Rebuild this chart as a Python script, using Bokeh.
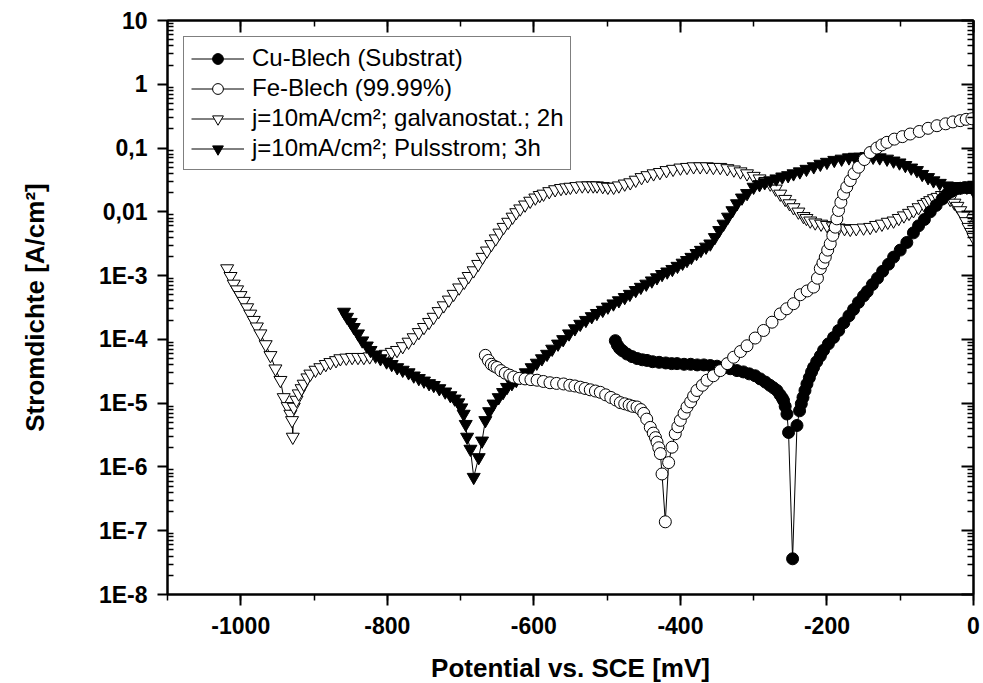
from bokeh.plotting import figure
from bokeh.models import (Range1d, LinearAxis, LogAxis, FixedTicker, SingleIntervalTicker,
                          CustomJSTickFormatter, Legend, LegendItem)
from bokeh.embed import file_html
from bokeh.resources import INLINE

# ---------------- data: (potential mV, current density A/cm2) ----------------
cu_points = [
    (-488.8, 9.55e-5), (-486, 8.13e-5), (-483, 7.24e-5), (-479, 6.61e-5), (-472.9, 5.89e-5),
    (-466, 5.37e-5), (-459, 5.01e-5), (-452, 4.79e-5), (-445.6, 4.68e-5), (-438, 4.47e-5),
    (-429, 4.37e-5), (-420, 4.27e-5), (-412, 4.17e-5), (-404.6, 4.17e-5), (-395, 4.07e-5),
    (-386, 4.07e-5), (-377, 3.98e-5), (-368, 3.98e-5), (-359.2, 3.89e-5), (-350, 3.80e-5),
    (-341, 3.63e-5), (-332, 3.47e-5), (-322.8, 3.24e-5), (-314, 3.09e-5), (-306, 2.88e-5),
    (-298, 2.69e-5), (-291, 2.40e-5), (-284, 2.14e-5), (-278, 1.91e-5), (-273, 1.74e-5),
    (-268.2, 1.58e-5), (-264, 1.35e-5), (-261, 1.20e-5), (-259.2, 1.10e-5), (-257, 8.91e-6),
    (-254.6, 6.76e-6), (-252.4, 3.47e-6), (-246.9, 3.63e-8), (-240.9, 4.47e-6), (-237.4, 7.59e-6),
    (-235, 9.77e-6), (-232.7, 1.23e-5), (-230, 1.58e-5), (-227.3, 2.00e-5), (-224, 2.51e-5),
    (-221, 3.09e-5), (-218.3, 3.63e-5), (-214, 4.47e-5), (-209, 5.50e-5), (-204.6, 6.76e-5),
    (-198, 8.51e-5), (-191, 1.07e-4), (-184, 1.38e-4), (-177, 1.82e-4), (-170, 2.34e-4),
    (-163.7, 2.95e-4), (-157, 3.80e-4), (-150.1, 4.79e-4), (-145, 5.62e-4), (-138, 7.24e-4),
    (-131, 9.12e-4), (-124, 1.17e-3), (-116, 1.51e-3), (-109, 1.95e-3), (-100, 2.51e-3),
    (-91, 3.31e-3), (-82, 4.68e-3), (-75, 6.03e-3), (-67, 7.59e-3), (-59, 1.00e-2),
    (-51, 1.26e-2), (-43, 1.58e-2), (-36, 1.91e-2), (-30, 2.09e-2), (-24, 2.29e-2),
    (-18, 2.34e-2), (-12, 2.40e-2), (-6, 2.40e-2), (0, 2.34e-2),
]

fe_points = [
    (-666.2, 5.62e-5), (-662, 4.68e-5), (-658, 4.07e-5), (-654, 3.80e-5), (-650.2, 3.63e-5),
    (-645, 3.24e-5), (-639, 2.95e-5), (-633, 2.75e-5), (-627.6, 2.57e-5), (-620, 2.45e-5),
    (-612, 2.40e-5), (-604, 2.34e-5), (-595.6, 2.29e-5), (-587, 2.19e-5), (-578, 2.09e-5),
    (-569, 2.04e-5), (-559.4, 2.00e-5), (-551, 1.91e-5), (-544, 1.86e-5), (-536.6, 1.78e-5),
    (-530, 1.70e-5), (-523, 1.62e-5), (-516, 1.55e-5), (-509.3, 1.48e-5), (-502, 1.35e-5),
    (-495, 1.23e-5), (-488, 1.12e-5), (-482, 1.02e-5), (-476, 9.77e-6), (-470, 9.33e-6),
    (-465, 8.91e-6), (-459.2, 8.71e-6), (-454, 7.94e-6), (-450, 6.92e-6), (-446, 5.62e-6),
    (-441.1, 4.17e-6), (-437, 3.39e-6), (-434, 2.88e-6), (-431.9, 2.45e-6), (-429.5, 2.00e-6),
    (-427.4, 1.62e-6), (-425.1, 7.76e-7), (-420.6, 1.38e-7), (-416.1, 1.17e-6), (-411.5, 2.04e-6),
    (-407, 3.31e-6), (-403.5, 4.27e-6), (-400.1, 5.37e-6), (-395, 6.92e-6), (-391, 8.71e-6),
    (-386, 1.05e-5), (-382, 1.29e-5), (-377.4, 1.58e-5), (-370, 1.91e-5), (-363.7, 2.29e-5),
    (-355, 2.69e-5), (-345.6, 3.24e-5), (-336, 4.17e-5), (-327.4, 5.25e-5), (-318, 6.46e-5),
    (-309.1, 7.94e-5), (-298, 1.05e-4), (-286.5, 1.38e-4), (-275, 1.86e-4), (-263.7, 2.51e-4),
    (-255, 3.02e-4), (-245.6, 3.63e-4), (-236.4, 5.01e-4), (-227, 5.75e-4), (-218.3, 6.61e-4),
    (-213, 9.12e-4), (-209.1, 1.29e-3), (-205.5, 1.58e-3), (-202.3, 1.95e-3), (-199, 2.51e-3),
    (-195.5, 3.16e-3), (-192, 4.27e-3), (-188.7, 5.75e-3), (-186.5, 7.76e-3), (-184.2, 1.05e-2),
    (-181, 1.41e-2), (-177.4, 1.91e-2), (-173, 2.45e-2), (-168.2, 3.09e-2), (-163, 3.98e-2),
    (-156.9, 5.01e-2), (-149, 6.61e-2), (-141, 8.51e-2), (-132, 0.100), (-125, 0.112),
    (-118.1, 0.123), (-108, 0.138), (-97, 0.151), (-86.4, 0.166), (-74, 0.182),
    (-62, 0.204), (-49.9, 0.224), (-38, 0.240), (-28, 0.257), (-18.1, 0.269),
    (-10, 0.282), (-2.2, 0.288),
]

gal_points = [
    (-1018.6, 1.29e-3), (-1014, 9.77e-4), (-1009.6, 7.41e-4), (-1005, 6.03e-4), (-1000.4, 4.90e-4),
    (-996, 3.98e-4), (-991.3, 3.16e-4), (-987, 2.51e-4), (-982.3, 2.00e-4), (-978, 1.58e-4),
    (-973.2, 1.23e-4), (-966, 8.32e-5), (-959.5, 5.62e-5), (-952.7, 3.47e-5), (-945.9, 2.29e-5),
    (-941.4, 1.23e-5), (-936, 8.91e-6), (-932.3, 6.76e-6), (-930, 5.37e-6), (-929, 2.95e-6),
    (-927.7, 8.71e-6), (-924, 1.12e-5), (-920.9, 1.41e-5), (-917, 1.70e-5), (-914.1, 2.00e-5),
    (-909, 2.51e-5), (-905, 2.88e-5), (-898, 3.31e-5), (-891.4, 3.63e-5), (-884, 4.07e-5),
    (-877.7, 4.37e-5), (-870, 4.68e-5), (-864.1, 5.01e-5), (-856, 5.13e-5), (-848, 5.25e-5),
    (-840, 5.25e-5), (-832, 5.25e-5), (-824, 5.37e-5), (-816, 5.50e-5), (-809.5, 5.62e-5),
    (-802, 5.89e-5), (-794, 6.31e-5), (-786.8, 6.76e-5), (-779, 7.76e-5), (-771, 9.12e-5),
    (-764.1, 1.07e-4), (-757, 1.29e-4), (-750, 1.55e-4), (-743, 1.86e-4), (-736.8, 2.24e-4),
    (-730, 2.75e-4), (-723, 3.39e-4), (-716, 4.17e-4), (-709.5, 5.13e-4), (-702, 6.46e-4),
    (-695, 7.94e-4), (-689, 9.77e-4), (-682.2, 1.20e-3), (-676, 1.51e-3), (-670, 1.95e-3),
    (-664, 2.45e-3), (-658, 3.09e-3), (-652, 3.80e-3), (-647, 4.68e-3), (-641.3, 5.75e-3),
    (-635, 6.92e-3), (-629, 8.32e-3), (-624, 9.77e-3), (-618.6, 1.12e-2), (-612, 1.29e-2),
    (-605, 1.48e-2), (-598, 1.66e-2), (-592, 1.82e-2), (-586.8, 1.91e-2), (-579, 2.09e-2),
    (-571, 2.24e-2), (-563, 2.34e-2), (-556, 2.40e-2), (-550.2, 2.45e-2), (-542, 2.51e-2),
    (-534, 2.57e-2), (-526, 2.57e-2), (-519, 2.57e-2), (-513.8, 2.57e-2), (-506, 2.51e-2),
    (-499, 2.45e-2), (-491.1, 2.45e-2), (-484, 2.57e-2), (-476, 2.75e-2), (-468.4, 2.88e-2),
    (-461, 3.16e-2), (-453, 3.47e-2), (-445, 3.72e-2), (-436.6, 3.98e-2), (-428, 4.17e-2),
    (-419, 4.47e-2), (-410, 4.68e-2), (-400, 4.90e-2), (-391, 5.01e-2), (-382, 5.13e-2),
    (-373, 5.13e-2), (-364, 5.13e-2), (-355, 5.01e-2), (-345.6, 5.01e-2), (-336, 4.79e-2),
    (-327, 4.57e-2), (-318, 4.27e-2), (-309.1, 3.98e-2), (-300, 3.63e-2), (-292, 3.31e-2),
    (-284, 3.02e-2), (-277.4, 2.75e-2), (-270, 2.29e-2), (-263.7, 1.91e-2), (-257, 1.58e-2),
    (-251, 1.35e-2), (-245.6, 1.17e-2), (-239, 1.00e-2), (-232, 8.51e-3), (-228, 7.94e-3),
    (-222.8, 7.24e-3), (-216, 6.76e-3), (-208, 6.46e-3), (-200, 6.17e-3), (-192, 5.89e-3),
    (-184, 5.62e-3), (-176, 5.50e-3), (-168.2, 5.37e-3), (-160, 5.50e-3), (-150, 5.62e-3),
    (-141, 5.75e-3), (-133, 6.17e-3), (-125, 6.46e-3), (-117, 6.92e-3), (-109.1, 7.24e-3),
    (-102, 7.94e-3), (-95, 8.71e-3), (-88, 9.55e-3), (-81.9, 1.05e-2), (-75, 1.17e-2),
    (-68, 1.32e-2), (-63, 1.41e-2), (-59.1, 1.51e-2), (-54, 1.62e-2), (-49, 1.70e-2),
    (-43.1, 1.82e-2), (-38, 1.74e-2), (-31.8, 1.58e-2), (-26, 1.38e-2), (-22, 1.23e-2),
    (-18.1, 1.05e-2), (-14, 8.71e-3), (-10, 7.08e-3), (-6.8, 5.75e-3), (-3, 4.79e-3),
    (0, 3.98e-3),
]

pul_points = [
    (-859.1, 2.69e-4), (-855, 2.24e-4), (-850, 1.86e-4), (-845.8, 1.55e-4), (-840, 1.23e-4),
    (-834.2, 9.55e-5), (-828, 7.94e-5), (-822.9, 6.76e-5), (-816, 5.75e-5), (-809.3, 5.01e-5),
    (-801, 4.47e-5), (-794, 4.07e-5), (-786.5, 3.63e-5), (-779, 3.31e-5), (-771, 3.02e-5),
    (-763.9, 2.69e-5), (-757, 2.45e-5), (-750, 2.24e-5), (-743, 2.04e-5), (-736.6, 1.91e-5),
    (-729, 1.70e-5), (-721, 1.51e-5), (-713.9, 1.32e-5), (-708, 1.17e-5), (-703, 1.02e-5),
    (-699, 8.51e-6), (-695.8, 6.76e-6), (-693, 4.68e-6), (-691.1, 2.95e-6), (-686.6, 1.91e-6),
    (-682.1, 6.92e-7), (-675.3, 1.41e-6), (-670.7, 2.57e-6), (-666.2, 5.37e-6), (-661, 7.41e-6),
    (-655, 9.77e-6), (-648, 1.23e-5), (-642, 1.48e-5), (-636.6, 1.78e-5), (-630, 2.04e-5),
    (-624, 2.29e-5), (-618.4, 2.57e-5), (-611, 3.02e-5), (-603, 3.63e-5), (-596, 4.27e-5),
    (-589, 5.01e-5), (-582, 5.89e-5), (-575, 7.08e-5), (-567, 8.51e-5), (-560, 1.00e-4),
    (-552, 1.23e-4), (-544, 1.48e-4), (-536.7, 1.74e-4), (-529, 2.00e-4), (-521, 2.29e-4),
    (-514, 2.57e-4), (-506, 2.88e-4), (-499, 3.24e-4), (-491.4, 3.63e-4), (-484, 4.07e-4),
    (-476, 4.57e-4), (-469, 5.13e-4), (-461, 5.89e-4), (-454, 6.61e-4), (-446.6, 7.41e-4),
    (-439, 8.32e-4), (-432, 9.33e-4), (-425, 1.05e-3), (-418, 1.15e-3), (-411, 1.26e-3),
    (-404, 1.41e-3), (-397, 1.58e-3), (-391, 1.74e-3), (-385, 1.95e-3), (-378, 2.24e-3),
    (-372, 2.51e-3), (-365, 2.82e-3), (-359.2, 3.16e-3), (-353, 3.98e-3), (-347, 5.13e-3),
    (-341.1, 6.46e-3), (-335, 8.32e-3), (-329, 1.05e-2), (-322.8, 1.35e-2), (-316, 1.66e-2),
    (-309, 1.95e-2), (-300.1, 2.45e-2), (-292, 2.69e-2), (-285, 2.88e-2), (-277.4, 3.09e-2),
    (-269, 3.31e-2), (-261, 3.55e-2), (-253, 3.72e-2), (-245.6, 3.98e-2), (-237, 4.27e-2),
    (-228, 4.68e-2), (-218, 5.13e-2), (-209, 5.62e-2), (-200, 6.03e-2), (-190, 6.46e-2),
    (-180, 6.76e-2), (-170, 7.08e-2), (-162, 7.24e-2), (-154.6, 7.24e-2), (-146, 7.41e-2),
    (-137, 7.24e-2), (-128, 7.08e-2), (-118, 6.76e-2), (-109.1, 6.31e-2), (-101, 5.89e-2),
    (-93, 5.37e-2), (-85, 4.90e-2), (-77.2, 4.47e-2), (-70, 3.89e-2), (-62, 3.47e-2),
    (-54.6, 3.09e-2), (-46, 2.82e-2), (-36.3, 2.57e-2), (-27, 2.51e-2), (-18, 2.45e-2),
    (-9, 2.45e-2), (0, 2.14e-2),
]

cu_mv = [p_[0] for p_ in cu_points]
cu_j = [p_[1] for p_ in cu_points]
fe_mv = [p_[0] for p_ in fe_points]
fe_j = [p_[1] for p_ in fe_points]
gal_mv = [p_[0] for p_ in gal_points]
gal_j = [p_[1] for p_ in gal_points]
pul_mv = [p_[0] for p_ in pul_points]
pul_j = [p_[1] for p_ in pul_points]

labels = ["Cu-Blech (Substrat)", "Fe-Blech (99.99%)",
          "j=10mA/cm\u00b2; galvanostat.; 2h", "j=10mA/cm\u00b2; Pulsstrom; 3h"]
y_ticks = [1e-8, 1e-7, 1e-6, 1e-5, 1e-4, 1e-3, 1e-2, 1e-1, 1, 10]
y_minor = [k * 10.0 ** e for e in range(-8, 1) for k in range(2, 10)]

FONT = "Liberation Sans"

p = figure(frame_width=806, frame_height=574, y_axis_type="log",
           x_range=Range1d(-1100, 0), y_range=Range1d(1e-8, 10),
           output_backend="svg", toolbar_location=None,
           min_border_left=167, min_border_right=10, min_border_top=20, min_border_bottom=89)
p.xgrid.visible = False
p.ygrid.visible = False
p.outline_line_color = "black"
p.outline_line_width = 2
p.background_fill_color = "white"
p.border_fill_color = "white"

xtick = SingleIntervalTicker(interval=200, num_minor_ticks=2)
ytick = FixedTicker(ticks=y_ticks, minor_ticks=y_minor)
xfmt = CustomJSTickFormatter(code="return tick.toFixed(0);")
yfmt = CustomJSTickFormatter(code="""
const e = Math.round(Math.log10(tick));
if (e == 1) return "10";
if (e == 0) return "1";
if (e == -1) return "0,1";
if (e == -2) return "0,01";
return "1E" + e;
""")

xa = p.xaxis[0]
xa.ticker = xtick
xa.formatter = xfmt
xa.axis_label = "Potential vs. SCE [mV]"
ya = p.yaxis[0]
ya.ticker = ytick
ya.formatter = yfmt
ya.axis_label = "Stromdichte [A/cm\u00b2]"

for ax in (xa, ya):
    ax.axis_line_width = 2
    ax.major_tick_line_width = 2
    ax.minor_tick_line_width = 1.5
    ax.major_label_text_font = FONT
    ax.major_label_text_font_style = "bold"
    ax.major_label_text_font_size = "23px"
    ax.major_label_text_color = "black"
    ax.axis_label_text_font = FONT
    ax.axis_label_text_font_style = "bold"
    ax.axis_label_text_font_size = "26px"
    ax.axis_label_text_color = "black"

xa.major_tick_out = 11
xa.major_tick_in = 0
xa.minor_tick_out = 6
xa.minor_tick_in = 0
xa.major_label_standoff = 11
xa.axis_label_standoff = 16

ya.major_tick_out = 10
ya.major_tick_in = 0
ya.minor_tick_out = 0
ya.minor_tick_in = 6
ya.major_label_standoff = 10
ya.axis_label_standoff = 46

empty = CustomJSTickFormatter(code="return '';")
top = LinearAxis(ticker=xtick, formatter=empty)
right = LogAxis(ticker=ytick, formatter=empty)
for ax in (top, right):
    ax.axis_line_width = 2
    ax.major_tick_line_width = 2
    ax.minor_tick_line_width = 1.5
    ax.major_tick_out = 0
    ax.minor_tick_out = 0
    ax.major_tick_in = 12
    ax.minor_tick_in = 6
    ax.major_label_text_font_size = "1px"
    ax.major_label_standoff = 0
p.add_layout(top, "above")
p.add_layout(right, "right")

# series (drawn bottom to top)
gl = p.line(gal_mv, gal_j, line_color="black", line_width=1)
gs = p.scatter(gal_mv, gal_j, marker="inverted_triangle", size=13,
               fill_color="white", line_color="black", line_width=1)
pl = p.line(pul_mv, pul_j, line_color="black", line_width=1)
ps = p.scatter(pul_mv, pul_j, marker="inverted_triangle", size=13,
               fill_color="black", line_color="black", line_width=1)
cl = p.line(cu_mv, cu_j, line_color="black", line_width=1)
cs = p.scatter(cu_mv, cu_j, marker="circle", size=12,
               fill_color="black", line_color="black", line_width=1)
fl = p.line(fe_mv, fe_j, line_color="black", line_width=1)
fs = p.scatter(fe_mv, fe_j, marker="circle", size=12,
               fill_color="white", line_color="black", line_width=1)

legend = Legend(items=[
    LegendItem(label=labels[0], renderers=[cl, cs]),
    LegendItem(label=labels[1], renderers=[fl, fs]),
    LegendItem(label=labels[2], renderers=[gl, gs]),
    LegendItem(label=labels[3], renderers=[pl, ps]),
], location="top_left")
legend.margin = 16
legend.padding = 7
legend.spacing = 2
legend.label_height = 27
legend.glyph_height = 27
legend.glyph_width = 53
legend.label_standoff = 8
legend.label_text_font = FONT
legend.label_text_font_size = "24px"
legend.label_text_color = "black"
legend.border_line_color = "black"
legend.border_line_width = 1.5
legend.background_fill_color = "white"
legend.background_fill_alpha = 1
p.add_layout(legend)

open("out.html", "w").write(file_html(p, INLINE))
